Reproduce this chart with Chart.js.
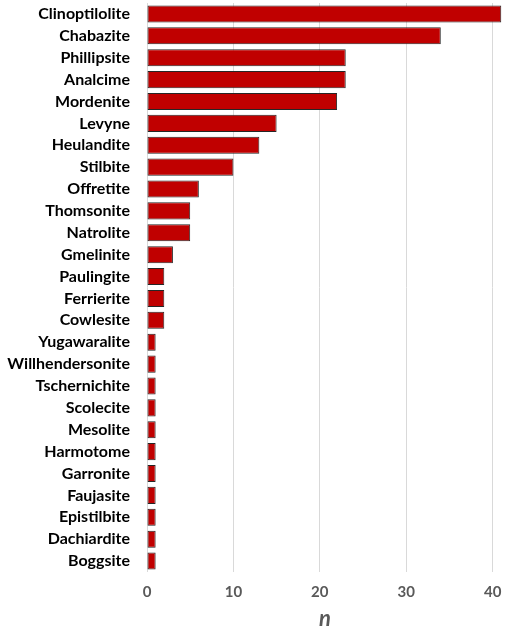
<!DOCTYPE html>
<html>
<head>
<meta charset="utf-8">
<script src="https://cdn.jsdelivr.net/npm/chart.js@4/dist/chart.umd.min.js"></script>
<style>
  html, body { margin: 0; padding: 0; background: #fff; }
  #wrap { width: 505px; height: 629px; position: relative; }
</style>
</head>
<body>
<div id="wrap"><canvas id="zeoliteChart"></canvas></div>
<script>
  /* ----------------------------------------------------------
     Data
     ---------------------------------------------------------- */
  const minerals = [
    'Clinoptilolite', 'Chabazite', 'Phillipsite', 'Analcime', 'Mordenite',
    'Levyne', 'Heulandite', 'Stilbite', 'Offretite', 'Thomsonite',
    'Natrolite', 'Gmelinite', 'Paulingite', 'Ferrierite', 'Cowlesite',
    'Yugawaralite', 'Willhendersonite', 'Tschernichite', 'Scolecite', 'Mesolite',
    'Harmotome', 'Garronite', 'Faujasite', 'Epistilbite', 'Dachiardite', 'Boggsite'
  ];
  const counts = [
    41, 34, 23, 23, 22,
    15, 13, 10, 6, 5,
    5, 3, 2, 2, 2,
    1, 1, 1, 1, 1,
    1, 1, 1, 1, 1, 1
  ];
  const xTicks = [0, 10, 20, 30, 40];

  /* ----------------------------------------------------------
     Chart
     ---------------------------------------------------------- */
  const ctx = document.getElementById('zeoliteChart');
  new Chart(ctx, {
    type: 'bar',
    data: {
      labels: minerals,
      datasets: [{
        label: 'n',
        data: counts,
        backgroundColor: '#C00000',
        borderColor: '#262626',
        borderWidth: 1,
        borderSkipped: false,
        barPercentage: 0.78,
        categoryPercentage: 1,
      }],
    },
    options: {
      indexAxis: 'y',
      responsive: true,
      maintainAspectRatio: false,
      animation: false,
      layout: { autoPadding: false, padding: { top: 3, right: 2, left: 0, bottom: 0 } },
      plugins: {
        legend: { display: false },
        tooltip: { enabled: false },
      },
      scales: {
        x: {
          min: 0,
          max: 41.2,
          afterBuildTicks: axis => {
            axis.ticks = xTicks.map(v => ({ value: v }));
          },
          afterFit: axis => {
            axis.height = 57;
            axis.paddingLeft = 0;
            axis.paddingRight = 0;
          },
          grid: { color: '#d9d9d9', lineWidth: 1, drawTicks: false },
          border: { display: false },
          ticks: {
            padding: 11,
            color: '#595959',
            font: { family: 'Lato', size: 15, weight: 'bold' },
          },
          title: {
            display: true,
            text: 'n',
            color: '#595959',
            padding: { top: 7, bottom: -3 },
            font: { family: 'Lato', size: 22, weight: 'bold', style: 'italic' },
          },
        },
        y: {
          afterFit: axis => {
            axis.width = 147;
            axis.paddingTop = 0;
            axis.paddingBottom = 0;
          },
          grid: { display: false, drawTicks: false },
          border: { display: false },
          ticks: {
            padding: 17,
            color: '#000',
            autoSkip: false,
            font: { family: 'Lato', size: 16, weight: 'bold' },
          },
        },
      },
    },
  });
</script>
</body>
</html>
